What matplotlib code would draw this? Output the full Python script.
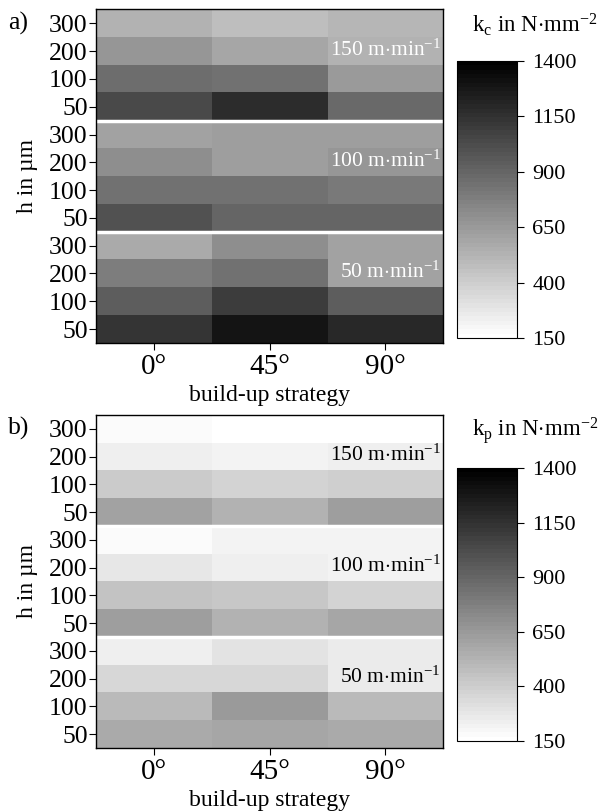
import numpy as np
import matplotlib
matplotlib.use("Agg")
import matplotlib.pyplot as plt
from matplotlib.colors import ListedColormap

plt.rcParams['font.family'] = ['Liberation Serif', 'DejaVu Serif']
plt.rcParams['mathtext.fontset'] = 'custom'
plt.rcParams['mathtext.rm'] = 'Liberation Serif'
plt.rcParams['mathtext.it'] = 'Liberation Serif:italic'

strategies = ['0°', '45°', '90°']
h_labels = ['300', '200', '100', '50']
speeds = ['150', '100', '50']

# k_c values (N/mm^2), rows: h=300,200,100,50 per speed block; cols: 0°,45°,90°
kc_150 = [[527, 469, 518], [665, 591, 537], [871, 836, 640], [1047, 1170, 890]]
kc_100 = [[606, 625, 625], [714, 625, 675], [851, 851, 812], [998, 910, 910]]
kc_50 = [[567, 699, 616], [777, 836, 616], [934, 1096, 934], [1145, 1292, 1189]]

# k_p values
kp_150 = [[179, 150, 165], [243, 209, 233], [420, 371, 395], [616, 527, 625]]
kp_100 = [[184, 209, 224], [273, 233, 224], [444, 434, 371], [625, 527, 591]]
kp_50 = [[243, 292, 263], [361, 361, 263], [493, 640, 493], [567, 591, 567]]

vmin, vmax = 150, 1400
cbar_ticks = [150, 400, 650, 900, 1150, 1400]

cmap = ListedColormap(plt.get_cmap('gray_r')(np.linspace(0, 1, 64)))

fig = plt.figure(figsize=(6.03, 8.11), dpi=100)

panels = [
    dict(data=[kc_150, kc_100, kc_50], ax=[0.1592, 0.5771, 0.5755, 0.4112],
         cax=[0.758, 0.5832, 0.0995, 0.3416], label='a)',
         ctitle=r'k$_\mathrm{c}$ in N$\cdot$mm$^\mathrm{-2}$', tcolor='white'),
    dict(data=[kp_150, kp_100, kp_50], ax=[0.1592, 0.0777, 0.5755, 0.4106],
         cax=[0.758, 0.0863, 0.0995, 0.3366], label='b)',
         ctitle=r'k$_\mathrm{p}$ in N$\cdot$mm$^\mathrm{-2}$', tcolor='black'),
]

for p in panels:
    ax = fig.add_axes(p['ax'])
    M = np.vstack([np.array(b) for b in p['data']])
    im = ax.imshow(M, cmap=cmap, vmin=vmin, vmax=vmax, aspect='auto',
                   interpolation='nearest')
    for yb in [3.5, 7.5]:
        ax.axhline(yb, color='white', lw=2.5)
    ax.set_yticks(range(12))
    ax.set_yticklabels(h_labels * 3, fontsize=18.5)
    ax.set_xticks(range(3))
    ax.set_xticklabels(strategies, fontsize=21)
    ax.tick_params(direction='out', length=5, width=0.8, pad=1)
    ax.tick_params(axis='x', pad=3)
    ax.set_xlabel('build-up strategy', fontsize=17)
    ax.xaxis.set_label_coords(0.5, -0.125)
    ax.set_ylabel('h in µm', fontsize=17)
    ax.yaxis.set_label_coords(-0.196, 0.5)
    ax.yaxis.label.set_va('center')
    ax.xaxis.label.set_va('top')
    for i, s in enumerate(speeds):
        ax.text(2.48, 4 * i + 0.95, s + r' m$\cdot$min$^\mathrm{-1}$',
                ha='right', va='center', fontsize=15.5, color=p['tcolor'])
    for sp in ax.spines.values():
        sp.set_linewidth(1.0)
    fig.text(0.013, p['ax'][1] + p['ax'][3] - 0.017, p['label'], fontsize=18.5,
             ha='left', va='center')
    cax = fig.add_axes(p['cax'])
    cb = fig.colorbar(im, cax=cax, ticks=cbar_ticks)
    cb.ax.tick_params(labelsize=16, direction='out', length=5, width=0.8, pad=6)
    cb.outline.set_linewidth(0.8)
    fig.text(0.887, p['ax'][1] + p['ax'][3] - 0.019,
             p['ctitle'], fontsize=16.5, ha='center', va='center')

fig.savefig('out.png', dpi=100)
